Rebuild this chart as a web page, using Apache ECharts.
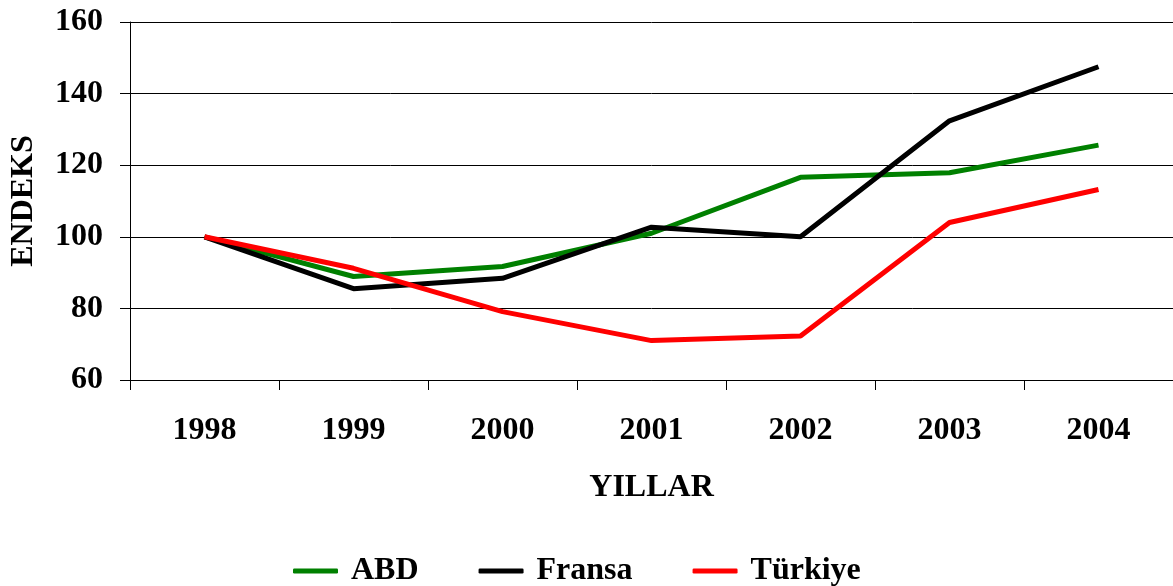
<!DOCTYPE html>
<html>
<head>
<meta charset="utf-8">
<script src="https://cdn.jsdelivr.net/npm/echarts@6/dist/echarts.min.js"></script>
<style>
  html, body { margin: 0; padding: 0; background: #fff; }
  #chart { width: 1173px; height: 586px; }
</style>
</head>
<body>
<div id="chart"></div>
<script>
  const years = ['1998', '1999', '2000', '2001', '2002', '2003', '2004'];
  const abd = [100, 88.9, 91.7, 101, 116.6, 117.9, 125.6];
  const fransa = [100, 85.5, 88.4, 102.7, 100, 132.4, 147.5];
  const turkiye = [100, 91.2, 79.1, 71.0, 72.3, 104.0, 113.2];

  const font = '"Liberation Serif", "Times New Roman", serif';
  const chart = echarts.init(document.getElementById('chart'));

  function line(name, data, color) {
    return {
      name: name,
      type: 'line',
      data: data,
      symbol: 'none',
      lineStyle: { color: color, width: 5 },
      itemStyle: { color: color }
    };
  }

  chart.setOption({
    animation: false,
    textStyle: { fontFamily: font },
    grid: { left: 130, right: 0, top: 22, bottom: 206, outerBoundsMode: 'none' },
    legend: {
      top: 550,
      left: 288,
      icon: 'roundRect',
      itemWidth: 45,
      itemHeight: 5,
      itemGap: 60,
      textStyle: { fontFamily: font, fontWeight: 'bold', fontSize: 32, color: '#000', padding: [0, 0, 0, 8] },
      data: ['ABD', 'Fransa', 'Türkiye']
    },
    xAxis: {
      type: 'category',
      data: years,
      boundaryGap: true,
      name: 'YILLAR',
      nameLocation: 'middle',
      nameGap: 92,
      nameTextStyle: { fontFamily: font, fontWeight: 'bold', fontSize: 32, color: '#000' },
      axisLine: { lineStyle: { color: '#000', width: 1 } },
      axisTick: { show: true, inside: false, length: 10, lineStyle: { color: '#000' } },
      axisLabel: { margin: 35, fontFamily: font, fontWeight: 'bold', fontSize: 32, color: '#000' },
      splitLine: { show: false }
    },
    yAxis: {
      type: 'value',
      min: 60,
      max: 160,
      interval: 20,
      name: 'ENDEKS',
      nameLocation: 'middle',
      nameGap: 90,
      nameRotate: 90,
      nameTextStyle: { fontFamily: font, fontWeight: 'bold', fontSize: 32, color: '#000' },
      axisLine: { show: true, lineStyle: { color: '#000', width: 1 } },
      axisTick: { show: true, inside: false, length: 10, lineStyle: { color: '#000' } },
      axisLabel: { margin: 27, fontFamily: font, fontWeight: 'bold', fontSize: 32, color: '#000' },
      splitLine: { show: true, lineStyle: { color: '#000', width: 1 } }
    },
    series: [
      line('ABD', abd, '#008000'),
      line('Fransa', fransa, '#000000'),
      line('Türkiye', turkiye, '#ff0000')
    ]
  });
</script>
</body>
</html>
